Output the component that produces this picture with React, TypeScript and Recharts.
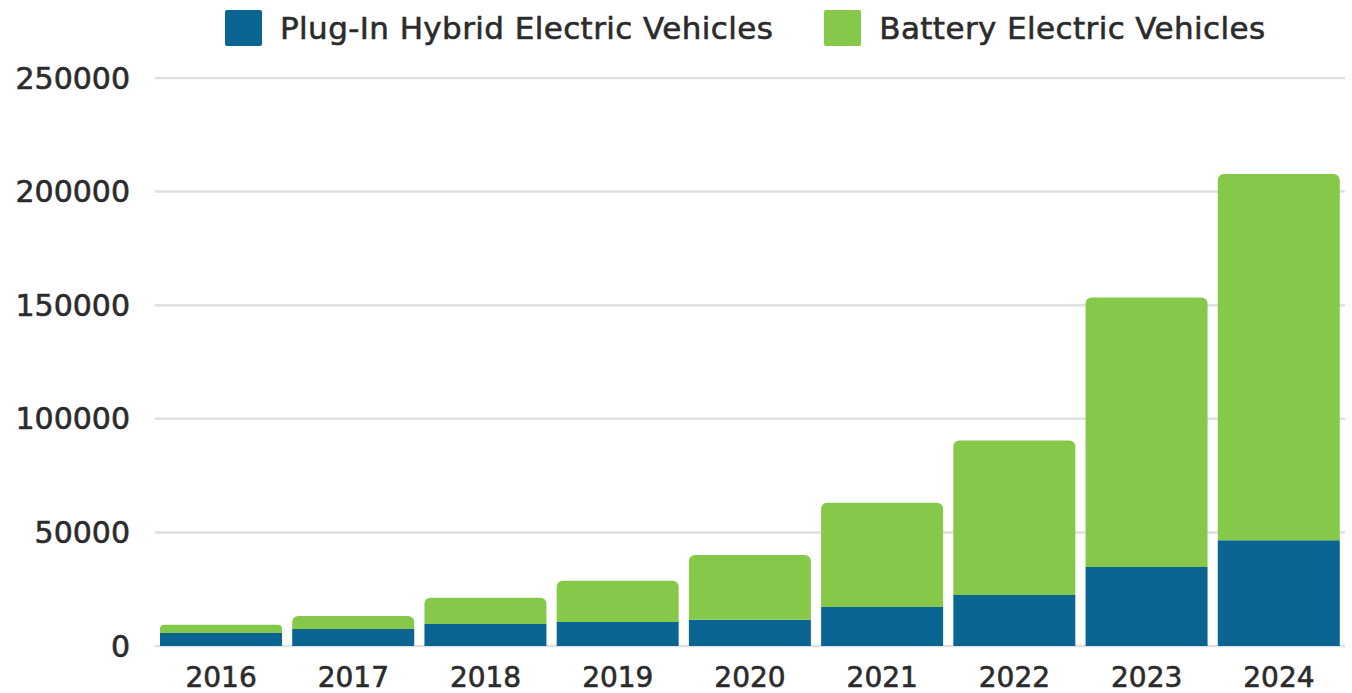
import React from 'react';
import { BarChart, Bar, XAxis, YAxis, CartesianGrid, Legend } from 'recharts';

const years = ['2016', '2017', '2018', '2019', '2020', '2021', '2022', '2023', '2024'];
const phev = [5700, 7500, 9700, 10600, 11500, 17200, 22500, 34800, 46500];
const bev = [3600, 5700, 11500, 18100, 28600, 45800, 67900, 118600, 161200];
const yTicks = [0, 50000, 100000, 150000, 200000, 250000];

const BLUE = '#0a6592';
const GREEN = '#86c94a';
const TEXT = '#2b2b2b';
const FONT = "'DejaVu Sans', sans-serif";

const data = years.map((y, i) => ({ year: y, phev: phev[i], bev: bev[i] }));

const legendItems = [
  { label: 'Plug-In Hybrid Electric Vehicles', color: BLUE },
  { label: 'Battery Electric Vehicles', color: GREEN },
];

function TopLegend() {
  return (
    <div style={{ display: 'flex', justifyContent: 'flex-start', gap: 51, fontFamily: FONT, height: 48, alignItems: 'center', paddingLeft: 225 }}>
      {legendItems.map((it) => (
        <div key={it.label} style={{ display: 'flex', alignItems: 'center' }}>
          <span style={{ width: 37, height: 36, background: it.color, display: 'inline-block', marginRight: 18, borderRadius: 2 }} />
          <span style={{ fontSize: 31, color: TEXT, whiteSpace: 'nowrap', letterSpacing: 0.4, WebkitTextStroke: `0.6px ${TEXT}` }}>{it.label}</span>
        </div>
      ))}
    </div>
  );
}

const tickStyle = { fill: TEXT, fontFamily: FONT, stroke: TEXT, strokeWidth: 0.6 };

export default function App() {
  return (
    <div style={{ position: 'absolute', left: 0, top: 0, background: '#fff' }}>
      <BarChart
        width={1352}
        height={693}
        data={data}
        margin={{ top: 30, right: 7, bottom: 7, left: 5 }}
        barCategoryGap={5}
      >
        <CartesianGrid vertical={false} stroke="#e0e0e0" strokeWidth={2.5} />
        <Legend
          verticalAlign="top"
          wrapperStyle={{ top: 4, left: 0, width: 1352 }}
          content={() => <TopLegend />}
        />
        <XAxis
          dataKey="year"
          axisLine={false}
          tickLine={false}
          height={40}
          tickMargin={15}
          tick={{ ...tickStyle, fontSize: 28 }}
        />
        <YAxis
          domain={[0, 250000]}
          ticks={yTicks}
          axisLine={false}
          tickLine={false}
          width={150}
          tickMargin={19}
          tick={{ ...tickStyle, fontSize: 30 }}
        />
        <Bar dataKey="phev" stackId="a" fill={BLUE} isAnimationActive={false} />
        <Bar dataKey="bev" stackId="a" fill={GREEN} radius={[6, 6, 0, 0]} isAnimationActive={false} />
      </BarChart>
    </div>
  );
}
